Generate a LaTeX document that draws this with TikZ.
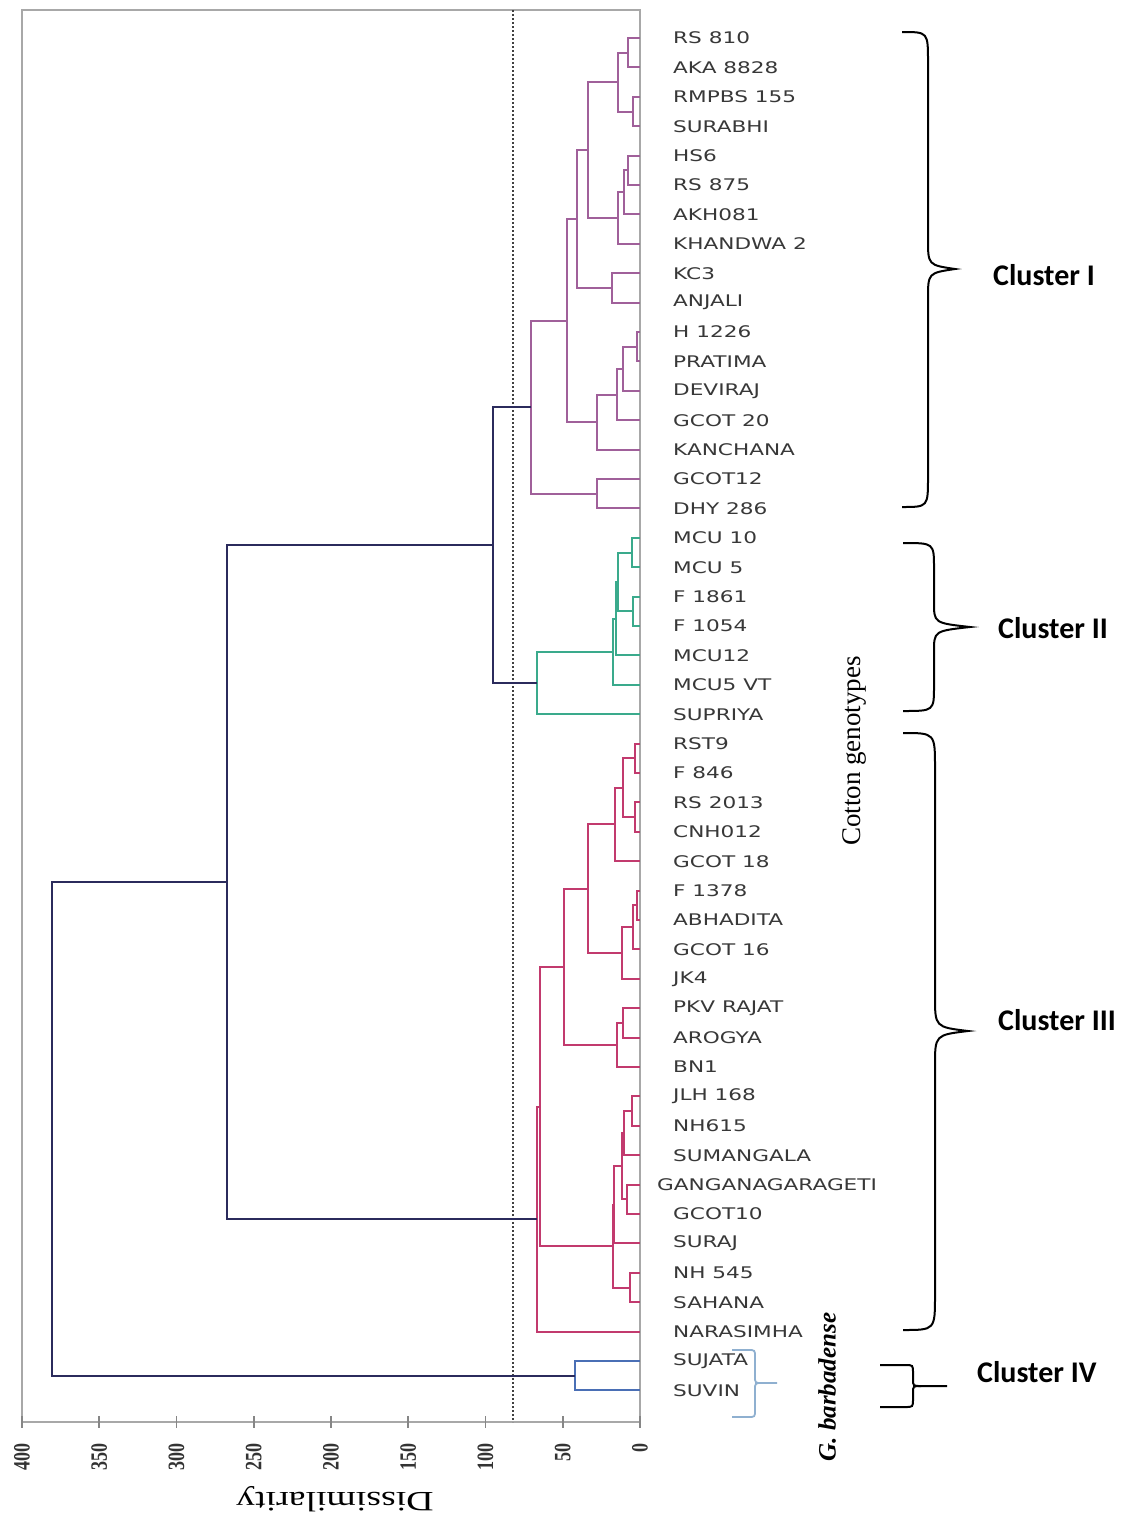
\documentclass[tikz,border=0pt]{standalone}
\usepackage{fontspec}
\setmainfont{Liberation Serif}
\newfontfamily\leaffont{DejaVu Sans}
\newfontfamily\clfont{Carlito}
\definecolor{cI}{HTML}{A0609A}
\definecolor{cII}{HTML}{3AAA8C}
\definecolor{cIII}{HTML}{C23A6E}
\definecolor{cIV}{HTML}{4A6FB5}
\definecolor{navy}{HTML}{2B2B5C}
\definecolor{framegray}{HTML}{A8A8A8}
\definecolor{leafgray}{HTML}{383838}
\definecolor{lightblue}{HTML}{8FB0D0}
% #1 style, #2 parent x, #3 child a x, #4 child a y, #5 child b x, #6 child b y
\newcommand{\mg}[6]{\draw[#1] (#3,#4) -- (#2,#4) -- (#2,#6) -- (#5,#6);}
% brace: #1 x0, #2 spine x, #3 tip x, #4 top y, #5 mid y, #6 bottom y, #7 r
\newcommand{\cbrace}[7]{\draw[bracestyle] (#1,#4) .. controls (#2,#4) .. (#2,#4+#7) -- (#2,#5-#7) .. controls (#2,#5-4) .. (#3,#5) .. controls (#2,#5+4) .. (#2,#5+#7) -- (#2,#6-#7) .. controls (#2,#6) .. (#1,#6);}
\tikzset{
  dend/.style={line width=2pt, line join=miter},
  dI/.style={dend, draw=cI},
  dII/.style={dend, draw=cII},
  dIII/.style={dend, draw=cIII},
  dIV/.style={dend, draw=cIV},
  dN/.style={dend, draw=navy},
  leaf/.style={anchor=west, inner sep=0pt, text=leafgray, font=\leaffont\fontsize{16}{18}\selectfont},
  ticklab/.style={rotate=90, anchor=east, inner sep=0pt, text=black!80, font=\bfseries\fontsize{18}{20}\selectfont},
  clab/.style={anchor=west, inner sep=0pt, font=\clfont\bfseries\fontsize{30}{34}\selectfont},
  bracestyle/.style={line width=2pt, draw=black},
}
\begin{document}
\begin{tikzpicture}[x=1pt,y=-1pt]
\useasboundingbox (0,0) rectangle (1123,1518);
\fill[white] (0,0) rectangle (1123,1518);
% frame
\draw[framegray, line width=2.4pt] (22,10) rectangle (640,1422);
\foreach \v in {0,50,...,400}{
  \draw[framegray!80!black, line width=1.8pt] ({640-1.545*\v},1416) -- ({640-1.545*\v},1428);
  \node[ticklab] (t\v) at ({640-1.545*\v},1443) {\scalebox{1}[1.3]{\v}};
}
% cut line
\draw[black!75, line width=2.6pt, dash pattern=on 2.4pt off 1.6pt] (513,10) -- (513,1422);
% leaves
\foreach \n/\t [count=\i from 0] in {
 l0/RS 810, l1/AKA 8828, l2/RMPBS 155, l3/SURABHI, l4/HS6, l5/RS 875, l6/AKH081, l7/KHANDWA 2,
 l8/KC3, l9/ANJALI, l10/H 1226, l11/PRATIMA, l12/DEVIRAJ, l13/GCOT 20, l14/KANCHANA, l15/GCOT12,
 l16/DHY 286, l17/MCU 10, l18/MCU 5, l19/F 1861, l20/F 1054, l21/MCU12, l22/MCU5 VT, l23/SUPRIYA,
 l24/RST9, l25/F 846, l26/RS 2013, l27/CNH012, l28/GCOT 18, l29/F 1378, l30/ABHADITA, l31/GCOT 16,
 l32/JK4, l33/PKV RAJAT, l34/AROGYA, l35/BN1, l36/JLH 168, l37/NH615, l38/SUMANGALA}{
  \node[leaf] (\n) at (673,{38+29.4*\i}) {\scalebox{1.35}[1]{\t}};
}
\node[leaf] (l39) at (657,1184.6) {\scalebox{1.35}[1]{GANGANAGARAGETI}};
\foreach \n/\t [count=\i from 40] in {l40/GCOT10, l41/SURAJ, l42/NH 545, l43/SAHANA, l44/NARASIMHA, l45/SUJATA, l46/SUVIN}{
  \node[leaf] (\n) at (673,{38+29.4*\i}) {\scalebox{1.35}[1]{\t}};
}
% ---- Cluster I
\mg{dI}{628}{640}{38.0}{640}{67.4}
\mg{dI}{633}{640}{96.8}{640}{126.2}
\mg{dI}{618}{628}{52.7}{633}{111.5}
\mg{dI}{628}{640}{155.6}{640}{185.0}
\mg{dI}{624}{628}{170.3}{640}{214.4}
\mg{dI}{618}{624}{192.35}{640}{243.8}
\mg{dI}{588}{618}{82.1}{618}{218.1}
\mg{dI}{612}{640}{273.2}{640}{302.6}
\mg{dI}{577}{588}{150.1}{612}{287.9}
\mg{dI}{637}{640}{332.0}{640}{361.4}
\mg{dI}{623}{637}{346.7}{640}{390.8}
\mg{dI}{617}{623}{368.75}{640}{420.2}
\mg{dI}{597}{617}{394.5}{640}{449.6}
\mg{dI}{567}{577}{219.0}{597}{422.05}
\mg{dI}{597}{640}{479.0}{640}{508.4}
\mg{dI}{531}{567}{320.5}{597}{493.7}
% ---- Cluster II
\mg{dII}{632}{640}{537.8}{640}{567.2}
\mg{dII}{633}{640}{596.6}{640}{626.0}
\mg{dII}{618}{632}{552.5}{633}{611.3}
\mg{dII}{616}{618}{581.9}{640}{655.4}
\mg{dII}{613}{616}{618.65}{640}{684.8}
\mg{dII}{537}{613}{651.7}{640}{714.2}
% ---- Cluster III
\mg{dIII}{635}{640}{743.6}{640}{773.0}
\mg{dIII}{635}{640}{802.4}{640}{831.8}
\mg{dIII}{623}{635}{758.3}{635}{817.1}
\mg{dIII}{615}{623}{787.7}{640}{861.2}
\mg{dIII}{637}{640}{890.6}{640}{920.0}
\mg{dIII}{633}{637}{905.3}{640}{949.4}
\mg{dIII}{622}{633}{927.35}{640}{978.8}
\mg{dIII}{588}{615}{824.45}{622}{953.1}
\mg{dIII}{623}{640}{1008.2}{640}{1037.6}
\mg{dIII}{617}{623}{1022.9}{640}{1067.0}
\mg{dIII}{564}{588}{888.8}{617}{1044.95}
\mg{dIII}{632}{640}{1096.4}{640}{1125.8}
\mg{dIII}{624}{632}{1111.1}{640}{1155.2}
\mg{dIII}{627}{640}{1184.6}{640}{1214.0}
\mg{dIII}{622}{624}{1133.15}{627}{1199.3}
\mg{dIII}{614}{622}{1166.2}{640}{1243.4}
\mg{dIII}{630}{640}{1272.8}{640}{1302.2}
\mg{dIII}{613}{614}{1204.8}{630}{1287.5}
\mg{dIII}{540}{564}{966.9}{613}{1246.15}
\mg{dIII}{537}{540}{1106.5}{640}{1331.6}
% ---- Cluster IV
\mg{dIV}{575}{640}{1361.0}{640}{1390.4}
% ---- top-level (navy)
\mg{dN}{493}{531}{407.1}{537}{682.95}
\mg{dN}{227}{493}{545.0}{537}{1219.05}
\mg{dN}{52}{227}{882.0}{575}{1375.7}
% axis title and side titles
\node[rotate=180, inner sep=0pt, font=\fontsize{28}{30}\selectfont] (xtitle) at (335,1499) {\scalebox{1.35}[1]{Dissimilarity}};
\node[rotate=90, inner sep=0pt, font=\fontsize{27}{30}\selectfont] (cg) at (854,751) {Cotton genotypes};
\node[rotate=90, inner sep=0pt, font=\bfseries\itshape\fontsize{25}{28}\selectfont] (gb) at (827,1387) {G. barbadense};
% small blue brace
\draw[lightblue, line width=1.8pt] (732,1350) -- (748,1350) .. controls (755,1350) .. (755,1357) -- (755,1376) .. controls (755,1383) .. (762,1383) -- (777,1383);
\draw[lightblue, line width=1.8pt] (762,1383) .. controls (755,1383) .. (755,1390) -- (755,1410) .. controls (755,1417) .. (748,1417) -- (732,1417);
% cluster braces
\cbrace{902}{928}{955}{32}{269}{507}{30}
\cbrace{903}{934}{970}{543}{627}{711}{25}
\cbrace{903}{935}{968}{733}{1031}{1330}{35}
\draw[bracestyle] (880,1365) -- (905,1365) .. controls (913,1365) .. (913,1373) -- (913,1379) .. controls (913,1386) .. (921,1386) -- (947,1386);
\draw[bracestyle] (921,1386) .. controls (913,1386) .. (913,1393) -- (913,1399) .. controls (913,1407) .. (905,1407) -- (880,1407);
% cluster labels
\node[clab] (c1) at (993,275) {Cluster I};
\node[clab] (c2) at (998,628) {Cluster II};
\node[clab] (c3) at (998,1020) {Cluster III};
\node[clab] (c4) at (977,1372) {Cluster IV};
\end{tikzpicture}
\end{document}
